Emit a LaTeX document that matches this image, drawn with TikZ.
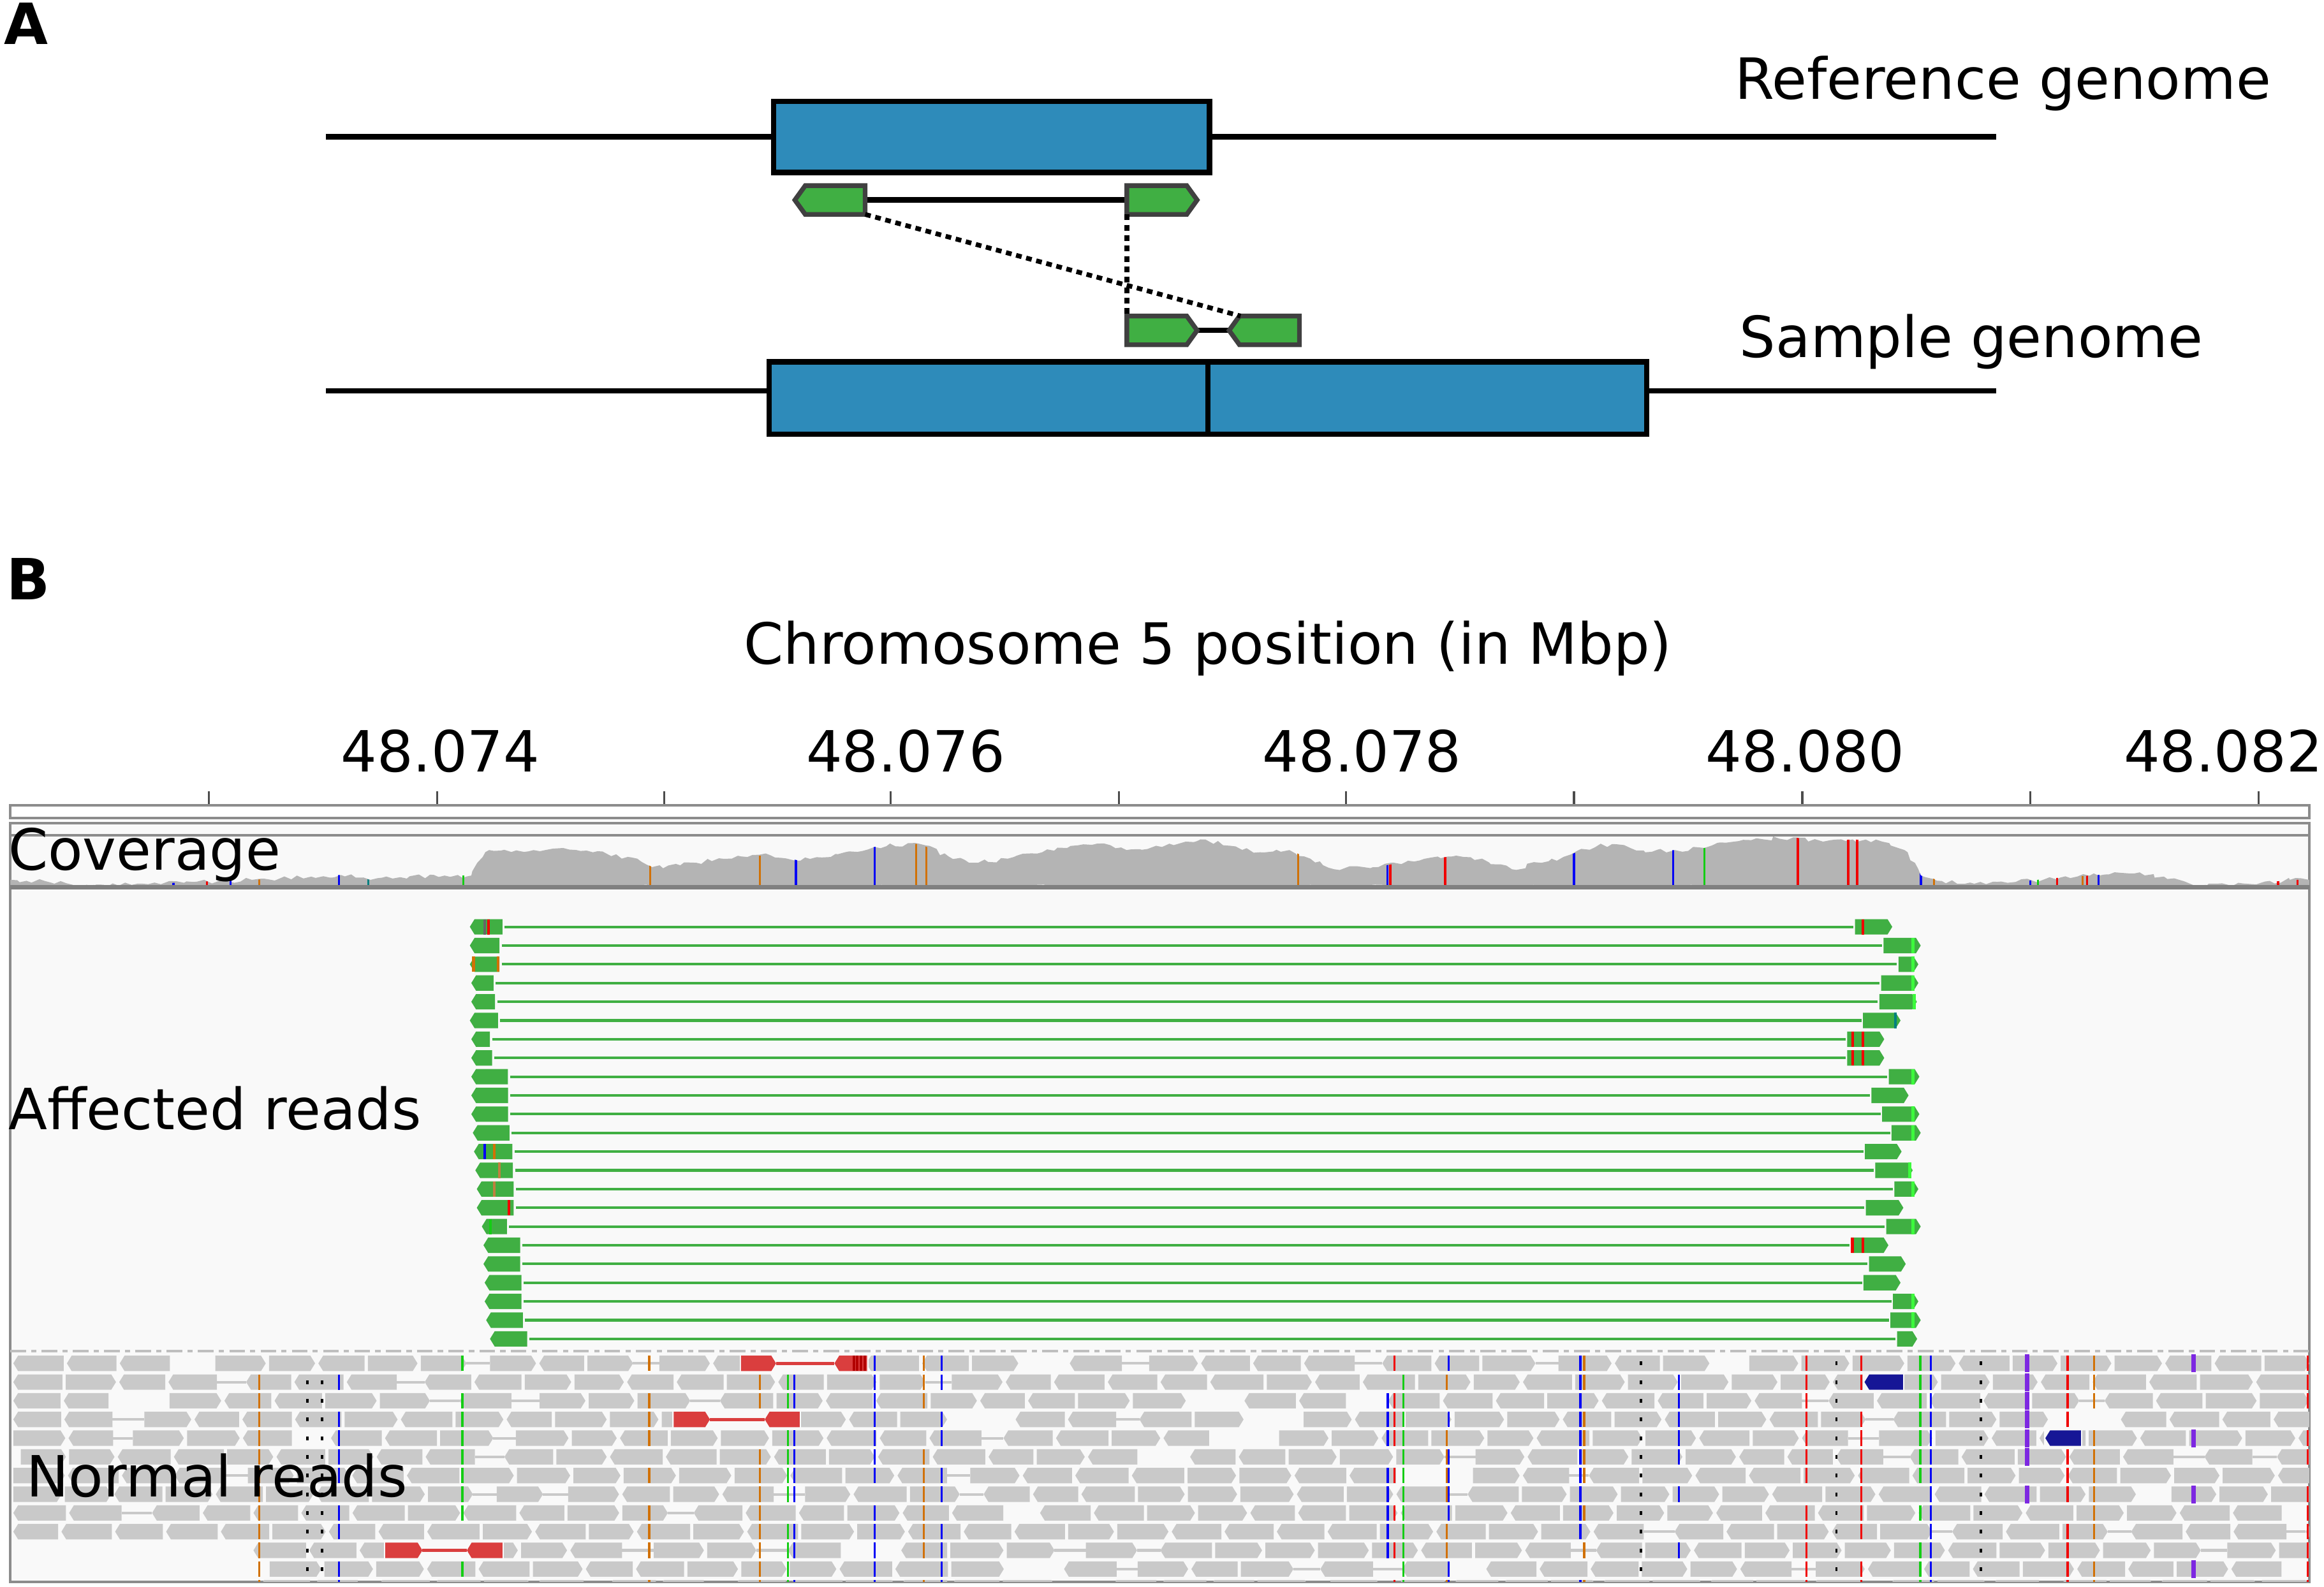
\documentclass[tikz,border=0pt]{standalone}
\usepackage{fontspec}
\setmainfont{DejaVu Sans}
\usetikzlibrary{decorations.pathmorphing}

\definecolor{genefill}{RGB}{46,139,186}
\definecolor{readgreen}{RGB}{64,175,67}
\definecolor{readedge}{RGB}{64,64,64}
\definecolor{igvgrey}{RGB}{201,201,201}
\definecolor{covgrey}{RGB}{180,180,180}
\definecolor{panelbg}{RGB}{249,249,249}
\definecolor{mmA}{RGB}{20,205,20}
\definecolor{mmC}{RGB}{0,0,245}
\definecolor{mmG}{RGB}{209,113,5}
\definecolor{mmT}{RGB}{240,0,0}
\definecolor{pairred}{RGB}{218,62,62}
\definecolor{pairnavy}{RGB}{22,22,150}
\definecolor{insviolet}{RGB}{125,40,225}
\definecolor{splitlime}{RGB}{60,250,60}

% reads in the IGV view: #1 start, #2 end, #3 row centre, #4 colour
\newcommand{\fwdread}[4]{\fill[#4] (#1,#3-5.2) -- (#2-3.2,#3-5.2) -- (#2,#3) -- (#2-3.2,#3+5.2) -- (#1,#3+5.2) -- cycle;}
\newcommand{\revread}[4]{\fill[#4] (#1+3.2,#3-5.2) -- (#2,#3-5.2) -- (#2,#3+5.2) -- (#1+3.2,#3+5.2) -- (#1,#3) -- cycle;}
% reads in the sketch, drawn round a named node
\newcommand{\readleft}[1]{\draw[readshape] (#1.west) -- ([xshift=0.7mm]#1.north west) -- (#1.north east) -- (#1.south east) -- ([xshift=0.7mm]#1.south west) -- cycle;}
\newcommand{\readright}[1]{\draw[readshape] (#1.north west) -- ([xshift=-0.7mm]#1.north east) -- (#1.east) -- ([xshift=-0.7mm]#1.south east) -- (#1.south west) -- cycle;}
\newcommand{\covprofile}{(7,598.6) -- (7,593.8) -- (30,594.5) -- (50,597.4) -- (65,597) -- (100,596.7) -- (130,595.2) -- (170,593.8) -- (210,591.6) -- (230,590.5) -- (250,593.8) -- (270,592) -- (300,590.9) -- (318,590.9) -- (322,582.3) -- (330,573.7) -- (345,575) -- (360,573.7) -- (380,572.3) -- (400,575.2) -- (430,579.5) -- (440,585.2) -- (470,582.3) -- (500,578) -- (520,577.3) -- (540,580.9) -- (570,575.2) -- (590,571.6) -- (620,569.4) -- (640,578) -- (660,582.3) -- (680,579.5) -- (700,576) -- (720,572.3) -- (740,569.4) -- (760,573.7) -- (780,570.8) -- (800,568) -- (810,566.5) -- (830,570.8) -- (850,575.2) -- (870,573.7) -- (880,578) -- (900,586.6) -- (930,585.2) -- (950,580.9) -- (980,578) -- (1000,579.5) -- (1020,586.6) -- (1040,582.3) -- (1060,576.6) -- (1080,569.4) -- (1100,572.3) -- (1110,575.2) -- (1130,573.7) -- (1150,572.3) -- (1170,568) -- (1190,566.5) -- (1210,565.1) -- (1230,568) -- (1250,566.5) -- (1270,568) -- (1285,573.7) -- (1292,582.3) -- (1296,590.9) -- (1310,594.5) -- (1340,596.7) -- (1360,595.2) -- (1390,592.3) -- (1420,590.2) -- (1440,589.5) -- (1460,591.6) -- (1480,597.4) -- (1520,596.7) -- (1545,593.8) -- (1558,593.8) -- (1558,598.6) -- cycle}

\begin{document}
\begin{tikzpicture}[x=0.01cm, y=-0.01cm,
    lbl/.style={font=\fontsize{10.9}{13}\selectfont, inner sep=0pt},
    panel/.style={font=\fontsize{10.9}{13}\selectfont\bfseries, inner sep=0pt},
    genome/.style={line width=1.05pt},
    gene/.style={draw, line width=1.05pt, fill=genefill, inner sep=0pt},
    readbox/.style={inner sep=0pt, minimum width=4.6mm, minimum height=1.8mm},
    readshape/.style={draw=readedge, fill=readgreen, line width=0.9pt, line join=miter},
    pairlink/.style={line width=1.05pt},
    dotlink/.style={line width=0.9pt, dash pattern=on 1.1pt off 0.9pt},
    box/.style={draw=black!45, line width=0.5pt},
    tick/.style={black!70, line width=0.4pt},
    mateline/.style={line width=0.5pt},
    mmline/.style={line width=0.4pt}]
\useasboundingbox (0,0) rectangle (1568,1071);

% ---------------- A
\node[panel, anchor=base west] (labA) at (2,30) {A};
\coordinate (refstart) at (220,92.4);
\coordinate (refend) at (1347,92.4);
\coordinate (smpstart) at (220,263.8);
\coordinate (smpend) at (1347,263.8);
\draw[genome] (refstart) -- (refend);
\draw[genome] (smpstart) -- (smpend);
\node[gene, minimum width=29.4mm, minimum height=4.8mm] (refgene) at (669,92.4) {};
\node[gene, minimum width=29.6mm, minimum height=4.9mm] (smpleft) at (667,268.6) {};
\node[gene, minimum width=29.6mm, minimum height=4.9mm] (smpright) at (963,268.6) {};
\node[lbl, anchor=base east] (reflabel) at (1533,66.8) {Reference genome};
\node[lbl, anchor=base east] (smplabel) at (1487,241) {Sample genome};

\node[readbox] (r1) at (560,135) {};
\node[readbox] (r2) at (784,135) {};
\node[readbox] (r3) at (784,223) {};
\node[readbox] (r4) at (853,223) {};
\draw[pairlink] (r1.east) -- (r2.west);
\draw[pairlink] (r3.east) -- (r4.west);
\readleft{r1}
\readright{r2}
\readright{r3}
\readleft{r4}
\draw[dotlink] (r1.south east) -- ([xshift=-1.6mm]r4.north);
\draw[dotlink] (r2.south west) -- (r3.north west);

% ---------------- B
\node[panel, anchor=base west] (labB) at (4,404.5) {B};
\node[lbl, anchor=base] (axistitle) at (815,448) {Chromosome 5 position (in Mbp)};
\node[lbl, anchor=base] (t74) at (297,520.7) {48.074};
\node[lbl, anchor=base] (t76) at (611,520.7) {48.076};
\node[lbl, anchor=base] (t78) at (919,520.7) {48.078};
\node[lbl, anchor=base] (t80) at (1218,520.7) {48.080};
\node[lbl, anchor=base] (t82) at (1500,520.7) {48.082};
\foreach \tx in {141,295,448,601,755,908,1062,1216,1370,1524}
    \draw[tick] (\tx,534) -- (\tx,542.5);
\draw[box, fill=white] (7,543.6) rectangle (1558,552);
\draw[box, fill=panelbg] (7,555.4) rectangle (1558,563.7);
\draw[box, fill=panelbg] (7,563.7) rectangle (1558,598.8);
\draw[box, fill=panelbg] (7,598.8) rectangle (1558,1067.5);

% coverage track
\begin{scope}
\clip (7,563.9) rectangle (1558,598.8);
\pgfmathsetseed{5}
\fill[covgrey, decorate, decoration={random steps, segment length=1.1pt, amplitude=0.45pt}] \covprofile;
\end{scope}
\begin{scope}
\clip \covprofile;
\foreach \cx/\cc in {117/mmC,139.6/mmT,155.7/mmC,174.8/mmG,228.8/mmC,248.5/teal,312.7/mmA,438.8/mmG,512.6/mmG,537/mmC,590/mmC,618/mmG,625/mmG,876/mmG,936/mmC,938/mmT,975/mmT,1062/mmC,1129/mmC,1150/mmA,1213/mmT,1247/mmT,1253/mmT,1296/mmC,1305/mmG,1370/mmC,1375/mmA,1388/mmT,1405/mmG,1408/mmT,1416/mmC,1537/mmT,1550/mmT}
    \draw[mmline, \cc] (\cx,555) -- (\cx,599);
\end{scope}
\draw[black!50, line width=0.9pt] (7,598.8) -- (1558,598.8);
\node[lbl, anchor=base west] (covlabel) at (5,587.3) {Coverage};

% affected read pairs
\foreach \la/\lb/\ra/\rb [count=\k from 0] in {317/339/1251.6/1276.7, 317/337/1270.8/1295.9, 317/337/1280.9/1294.3,
    318/333/1269.2/1294.3, 318/334/1268/1293.3, 317/336/1257/1282.3, 318/330.5/1246.3/1271.3, 318/332/1246.3/1271.3,
    318/342.7/1274.4/1295, 318/342.8/1262.6/1287.7, 318/342.8/1269.9/1295, 319/343.8/1276.2/1295.9,
    319.8/345.7/1258.2/1283, 320.7/346/1265.2/1290.5, 321.7/346.5/1278.1/1294.3, 321.7/346.5/1258.9/1284.2,
    325.1/342/1272.7/1295.9, 326.2/351/1249/1274.1, 326.2/351/1261/1285.8, 327/351.8/1257.3/1282.3,
    327/351.8/1277.2/1294.3, 328/352.8/1275.5/1295.9, 330.6/355.7/1280/1293.5}{
    \pgfmathsetmacro{\yy}{625.5+12.64*\k}
    \revread{\la}{\lb}{\yy}{readgreen}
    \fwdread{\ra}{\rb}{\yy}{readgreen}
    \draw[mateline, readgreen] (\lb+1.5,\yy) -- (\ra-1,\yy);
}
\foreach \k/\mx in {1/1290.5,2/1290.5,3/1290.5,4/1291.5,8/1290.5,10/1290.5,11/1290.5,13/1288.6,14/1290.5,16/1290.5,20/1290.5,21/1290.5}
    \draw[line width=0.6pt, splitlime] (\mx,625.5+12.64*\k-5.2) -- (\mx,625.5+12.64*\k+5.2);
\foreach \k/\mx/\cc in {0/1256.8/mmT,6/1250.2/mmT,6/1256.8/mmT,7/1250.2/mmT,7/1256.8/mmT,17/1249.8/mmT,17/1256.8/mmT,
    5/1278.8/teal,0/327/black!60,0/329.5/mmT,2/319.5/mmG,2/336/mmG,12/327/mmC,12/333.5/mmG,13/337/brown,14/333.5/brown,
    15/343.5/mmT,16/331/mmA}
    \draw[line width=0.5pt, \cc] (\mx,625.5+12.64*\k-5.2) -- (\mx,625.5+12.64*\k+5.2);
\draw[black!25, line width=0.5pt, dash pattern=on 3pt off 1pt on 1pt off 1pt] (7,911.9) -- (1558,911.9);

% normal reads
\begin{scope}
\clip (7,913.8) rectangle (1558,1067.5);
\pgfmathsetseed{11}
\foreach \xs [count=\i from 0] in {9,9,9,9,9,14,9,9,9,9,171,182,175}{
    \pgfmathsetmacro{\yc}{920.1+12.62*\i}
    \xdef\curx{\xs}
    \foreach \k in {1,...,50}{
        \pgfmathsetmacro{\rlen}{30+6*rnd}
        \pgfmathsetmacro{\rgp}{rnd}
        \pgfmathtruncatemacro{\rdir}{rnd<0.5 ? 0 : 1}
        \pgfmathsetmacro{\rxe}{\curx+\rlen}
        \ifnum\rdir=0 \revread{\curx}{\rxe}{\yc}{igvgrey}\else\fwdread{\curx}{\rxe}{\yc}{igvgrey}\fi
        \pgfmathsetmacro{\rgap}{\rgp<0.14 ? 13+9*rnd : (\rgp<0.18 ? 20+35*rnd : 2.2)}
        \pgfmathtruncatemacro{\rconn}{\rgp<0.14 ? 1 : 0}
        \ifnum\rconn=1 \draw[mateline, igvgrey] (\rxe,\yc) -- (\rxe+\rgap,\yc);\fi
        \pgfmathsetmacro{\rnx}{\rxe+\rgap}
        \xdef\curx{\rnx}
    }
}
\foreach \cx/\cc in {175/mmG,228.7/mmC,312/mmA,438/mmG,512.8/mmG,531.5/mmA,536/mmC,590/mmC,623.4/mmG,635.3/mmC,
    936.3/mmC,940.9/mmT,947/mmA,976/mmG,977.5/mmC,1066.3/mmC,1068.8/mmG,1132.8/mmC,1218.8/mmT,1255.7/mmT,
    1295.6/mmA,1302.8/mmC,1395/mmT,1413/mmG,1557/mmT}{
    \foreach \i in {0,...,12}{
        \pgfmathtruncatemacro{\mmon}{rnd<0.8 ? 1 : 0}
        \ifnum\mmon=1 \draw[mmline, \cc] (\cx,920.1+12.62*\i-5.2) -- (\cx,920.1+12.62*\i+5.2);\fi
    }
}
\foreach \i in {1,...,11}{
    \fill (206.7,920.1+12.62*\i-1.3) rectangle (208.3,920.1+12.62*\i+1.3);
    \fill (216.6,920.1+12.62*\i-1.3) rectangle (218.2,920.1+12.62*\i+1.3);
}
\foreach \i in {0,...,11}{
    \fill (1106.2,920.1+12.62*\i-1.3) rectangle (1107.8,920.1+12.62*\i+1.3);
    \fill (1238.2,920.1+12.62*\i-1.3) rectangle (1239.8,920.1+12.62*\i+1.3);
    \fill (1335.8,920.1+12.62*\i-1.3) rectangle (1337.4,920.1+12.62*\i+1.3);
}
\foreach \i/\ix in {0/1367.8,1/1367.8,2/1367.8,3/1367.8,4/1367.8,5/1367.8,7/1367.8,0/1480,4/1480,7/1480,11/1480}{
    \draw[insviolet, line width=0.8pt] (\ix,920.1+12.62*\i-4.6) -- (\ix,920.1+12.62*\i+4.6);
    \draw[insviolet, line width=0.8pt] (\ix-1.6,920.1+12.62*\i-4.6) -- (\ix+1.6,920.1+12.62*\i-4.6)
        (\ix-1.6,920.1+12.62*\i+4.6) -- (\ix+1.6,920.1+12.62*\i+4.6);
}
% discordant pairs
\foreach \i/\ra/\rb/\rc/\rd in {0/500/523.6/563/585, 3/454.5/479/516/539.5, 10/260/285/315/339}{
    \pgfmathsetmacro{\yc}{920.1+12.62*\i}
    \fill[panelbg] (\ra-1,\yc-6) rectangle (\rd+1,\yc+6);
    \fwdread{\ra}{\rb}{\yc}{pairred}
    \revread{\rc}{\rd}{\yc}{pairred}
    \draw[pairred, line width=0.6pt] (\rb,\yc) -- (\rc,\yc);
}
\foreach \x in {576,578.5,581,583.5}
    \draw[line width=0.5pt, red!70!black] (\x,920.1-5.2) -- (\x,920.1+5.2);
\foreach \i/\ra/\rb in {1/1258/1284, 4/1380/1404}{
    \pgfmathsetmacro{\yc}{920.1+12.62*\i}
    \fill[panelbg] (\ra-1,\yc-6) rectangle (\rb+1,\yc+6);
    \revread{\ra}{\rb}{\yc}{pairnavy}
}
\end{scope}
\node[lbl, anchor=base west] (afflabel) at (5,762.4) {Affected reads};
\node[lbl, anchor=base west] (normlabel) at (17,1010) {Normal reads};
\end{tikzpicture}
\end{document}
